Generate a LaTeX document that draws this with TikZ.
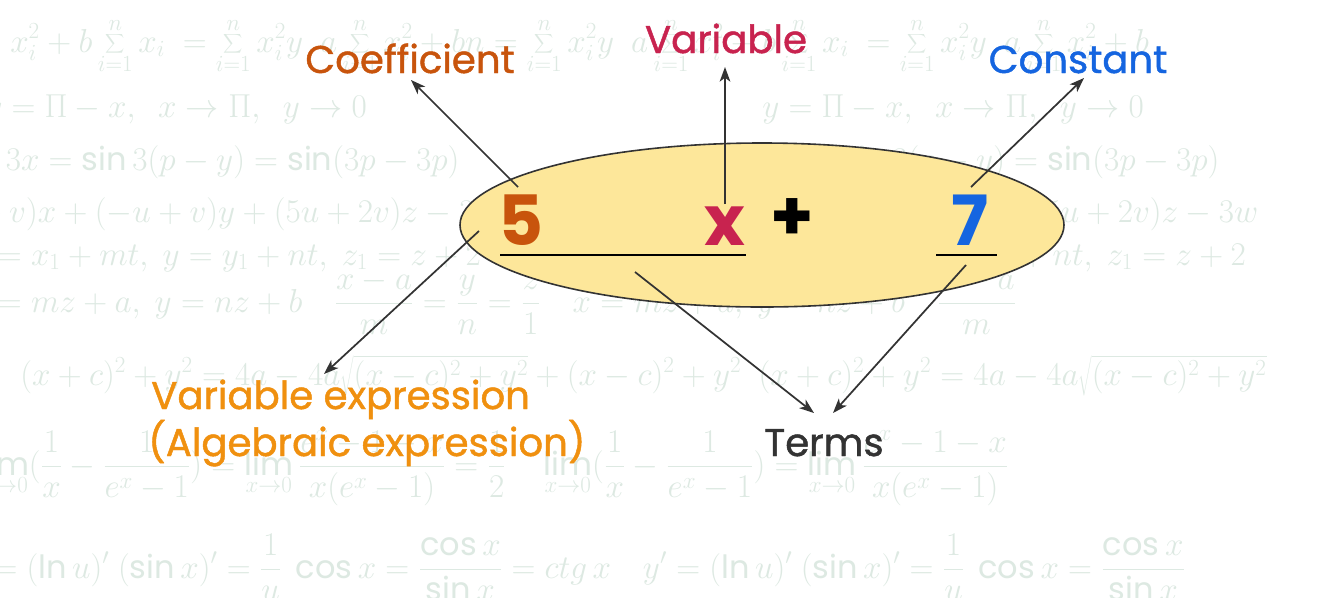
\documentclass[tikz,border=0pt]{standalone}
\usepackage{fontspec}
\setmainfont{Poppins}
\newfontfamily\lblfont{Poppins}[FakeBold=1.2]
\usetikzlibrary{shapes.geometric,arrows.meta}
\definecolor{coefc}{HTML}{C8540C}
\definecolor{varc}{HTML}{C8234F}
\definecolor{constc}{HTML}{1565E0}
\definecolor{exprc}{HTML}{F0900F}
\definecolor{termc}{HTML}{333333}
\definecolor{ovalc}{HTML}{FDE79A}
\definecolor{linec}{HTML}{333333}
\definecolor{bgc}{HTML}{DDE9E2}
\begin{document}
\begin{tikzpicture}[x=0.75pt,y=-0.75pt,
  lbl/.style={font=\lblfont\fontsize{29}{35}\selectfont, anchor=base, inner sep=0pt},
  big/.style={font=\fontsize{52}{60}\selectfont\bfseries, anchor=base, inner sep=0pt},
  arr/.style={draw=linec, line width=1.3pt, -{Stealth[length=11pt,width=8pt,inset=3pt]}},
  uline/.style={draw=black, line width=1.3pt},
  bg/.style={text=bgc, anchor=base west, inner sep=0pt, font=\fontsize{24}{28}\selectfont}]
\useasboundingbox (0,0) rectangle (1327,597);
\fill[white] (0,0) rectangle (1327,597);
\begin{scope}
\clip (0,0) rectangle (1327,597);
\node[bg] (bg1) at (10,52) {$\displaystyle x_i^2+b\sum_{i=1}^{n}x_i\ =\sum_{i=1}^{n}x_i^2y\ \ a\sum_{i=1}^{n}x_i^2+bn=\sum_{i=1}^{n}x_i^2y\ \ a\sum_{i=1}^{n}x_i^2+b\sum_{i=1}^{n}x_i\ =\sum_{i=1}^{n}x_i^2y\ \ a\sum_{i=1}^{n}x_i^2+b$};
\node[bg] (bg2a) at (-15,117) {$y=\Pi-x,\ \ x\to\Pi,\ \ y\to0$};
\node[bg] (bg2b) at (762,117) {$y=\Pi-x,\ \ x\to\Pi,\ \ y\to0$};
\node[bg] (bg3a) at (-45,170) {$\sin 3x=\sin3(p-y)=\sin(3p-3p)$};
\node[bg] (bg3b) at (715,170) {$\sin 3x=\sin3(p-y)=\sin(3p-3p)$};
\node[bg] (bg4a) at (-60,222) {$(u+v)x+(-u+v)y+(5u+2v)z-3w$};
\node[bg] (bg4b) at (700,222) {$(u+v)x+(-u+v)y+(5u+2v)z-3w$};
\node[bg] (bg5a) at (-30,265) {$x=x_1+mt,\ y=y_1+nt,\ z_1=z+2$};
\node[bg] (bg5b) at (735,265) {$x=x_1+mt,\ y=y_1+nt,\ z_1=z+2$};
\node[bg] (bg6) at (-30,312) {$\displaystyle x=mz+a,\ y=nz+b\quad \frac{x-a}{m}=\frac{y}{n}=\frac{z}{1}\quad x=mz+a,\ y=nz+b\quad \frac{x-a}{m}$};
\node[bg] (bg7) at (20,385) {$(x+c)^2+y^2=4a-4a\sqrt{(x-c)^2+y^2}+(x-c)^2+y^2\ \ (x+c)^2+y^2=4a-4a\sqrt{(x-c)^2+y^2}$};
\node[bg] (bg8) at (-20,475) {$\displaystyle \lim_{x\to0}\Bigl(\frac1x-\frac1{e^x-1}\Bigr)=\lim_{x\to0}\frac{e^x-1-x}{x(e^x-1)}=\frac12\quad \lim_{x\to0}\Bigl(\frac1x-\frac1{e^x-1}\Bigr)=\lim_{x\to0}\frac{e^x-1-x}{x(e^x-1)}$};
\node[bg] (bg9) at (-40,578) {$\displaystyle y'=(\ln u)'\ (\sin x)'=\frac1u\ \cos x=\frac{\cos x}{\sin x}=ctg\,x\quad y'=(\ln u)'\ (\sin x)'=\frac1u\ \cos x=\frac{\cos x}{\sin x}$};
\end{scope}
% oval
\node[ellipse, draw=linec, line width=1.2pt, fill=ovalc, inner sep=0pt,
      minimum width=453pt, minimum height=123pt] (oval) at (762,225) {};
% expression parts
\node[big, text=coefc] (five) at (521,245) {5};
\node[big, text=varc] (xv) at (725,245) {x};
\node[big, text=black] (plus) at (792,240) {+};
\node[big, text=constc] (seven) at (970,245) {7};
\coordinate (u1a) at (500,255); \coordinate (u1b) at (746,255);
\coordinate (u2a) at (936,255); \coordinate (u2b) at (997,255);
\draw[uline] (u1a) -- (u1b);
\draw[uline] (u2a) -- (u2b);
% labels
\node[lbl, text=coefc] (coef) at (410,73) {Coefficient};
\node[lbl, text=varc] (var) at (726,53) {Variable};
\node[lbl, text=constc] (const) at (1078,73) {Constant};
\node[lbl, text=exprc, anchor=base west] (expr1) at (151,409) {Variable expression};
\node[lbl, text=exprc, anchor=base west] (expr2) at (148,456) {(Algebraic expression)};
\node[lbl, text=termc] (terms) at (824,456) {Terms};
% arrows
\coordinate (cs) at (518,187); \coordinate (ce) at (411,80);
\coordinate (vs) at (725,204); \coordinate (ve) at (725,67);
\coordinate (ks) at (971,187); \coordinate (ke) at (1084,78);
\coordinate (es) at (479,231); \coordinate (ee) at (324,374);
\coordinate (t1s) at (635,272); \coordinate (t1e) at (814,413);
\coordinate (t2s) at (966,265); \coordinate (t2e) at (833,413);
\draw[arr] (cs) -- (ce);
\draw[arr] (vs) -- (ve);
\draw[arr] (ks) -- (ke);
\draw[arr] (es) -- (ee);
\draw[arr] (t1s) -- (t1e);
\draw[arr] (t2s) -- (t2e);
\end{tikzpicture}
\end{document}
